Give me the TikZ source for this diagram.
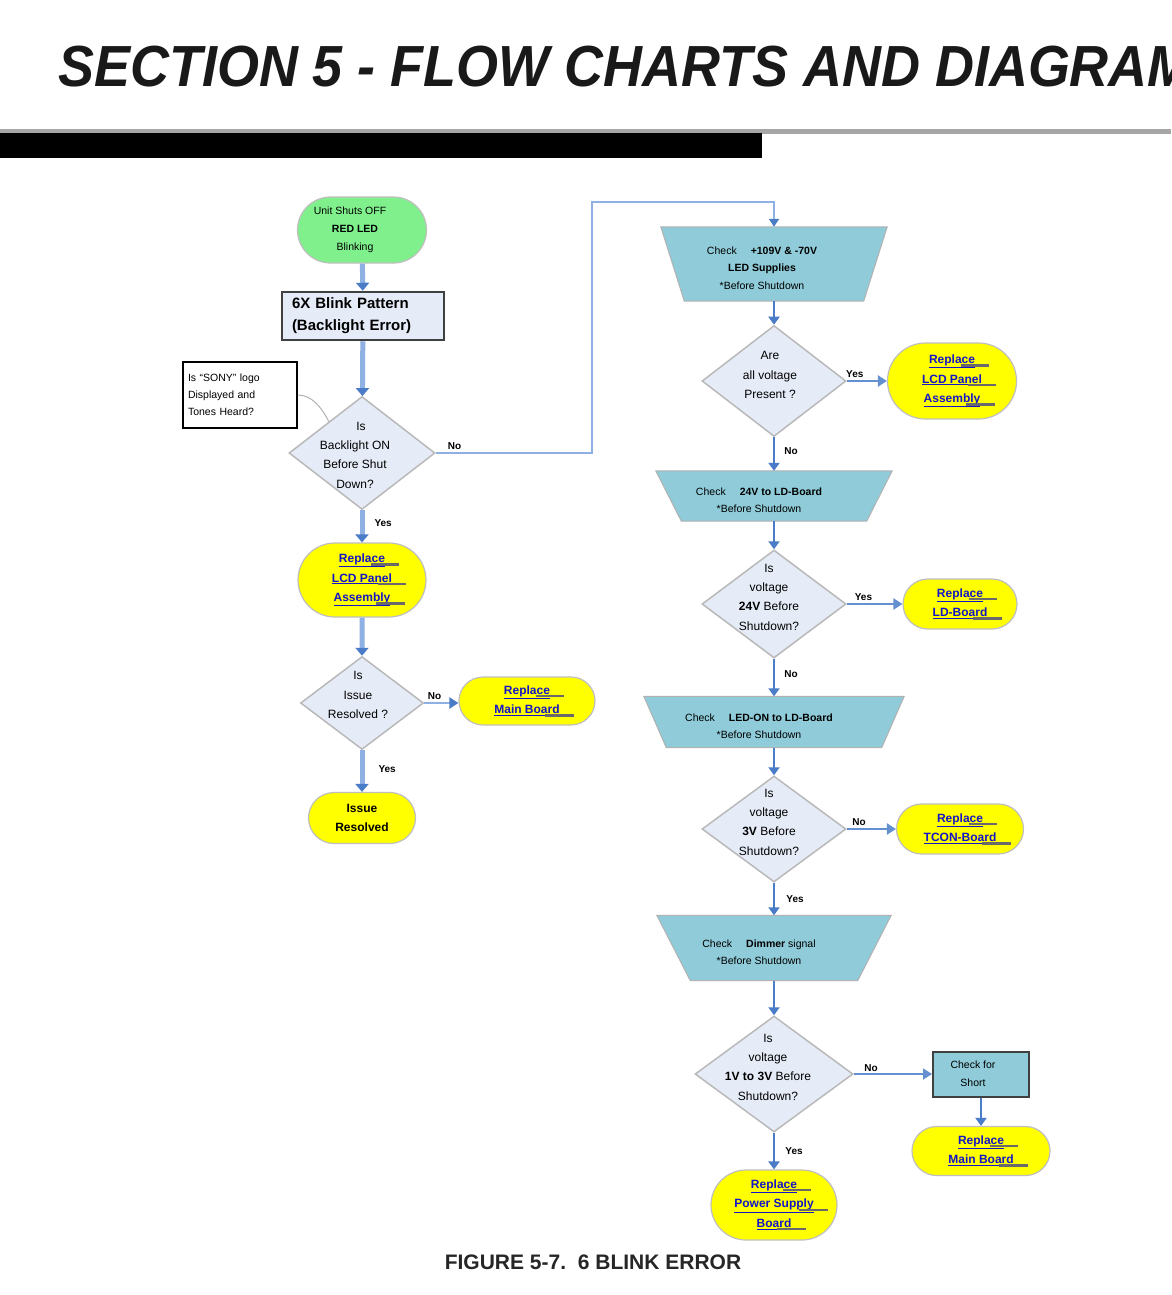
\documentclass[tikz,border=0pt]{standalone}
\usepackage{fontspec}
\setmainfont{Liberation Sans}
\usetikzlibrary{shapes.geometric,shapes.misc,arrows.meta,calc}

\definecolor{startgreen}{RGB}{128,240,140}
\definecolor{endyellow}{RGB}{255,255,0}
\definecolor{checkteal}{RGB}{143,203,216}
\definecolor{askfill}{RGB}{230,236,247}
\definecolor{flowblue}{RGB}{74,124,200}
\definecolor{paleblue}{RGB}{142,176,226}
\definecolor{linkblue}{RGB}{20,20,200}
\definecolor{bargray}{RGB}{105,105,105}

% underlined link text with the grey bar behind it
\newcommand{\lnk}[1]{\textcolor{linkblue}{\underline{#1}}\rlap{\kern-1.2em\textcolor{bargray}{\rule[-3pt]{2.4em}{2.2pt}}}}
% inverted trapezium drawn on a named frame node
\newcommand{\chkshape}[2]{\filldraw[fill=checkteal, draw=gray!60, line width=1pt]
	(#1.north west) -- (#1.north east) -- ([xshift=-#2]#1.south east) -- ([xshift=#2]#1.south west) -- cycle;}

\begin{document}
\begin{tikzpicture}
	[x=1pt,y=-1pt,
	every node/.style={inner sep=0pt, align=center, font=\fontsize{10.5}{18}\selectfont},
	endbox/.style={rounded rectangle, draw=gray!50, line width=1.2pt, fill=endyellow,
		font=\bfseries\fontsize{12}{19.5}\selectfont},
	ask/.style={diamond, draw=gray!55, line width=1.5pt, fill=askfill},
	asktext/.style={font=\fontsize{12}{19.3}\selectfont},
	chk/.style={rectangle},
	chktext/.style={font=\fontsize{10.5}{17.5}\selectfont},
	lbl/.style={font=\bfseries\fontsize{10}{12}\selectfont},
	bigflow/.style={draw=paleblue, line width=5pt, -{Triangle[width=13pt,length=8pt,color=flowblue]}},
	flow/.style={draw=flowblue, line width=2.8pt, -{Triangle[width=11pt,length=8pt]}},
	sideflow/.style={draw=flowblue!85, line width=2.2pt, -{Triangle[width=11pt,length=9pt]}},
	longflow/.style={draw=paleblue, line width=2pt, -{Triangle[width=10pt,length=8pt,color=flowblue]}}]

	\useasboundingbox[fill=white] (0,0) rectangle (1171,1295);

	% page heading
	\begin{scope}
		\clip (0,0) rectangle (1171,1295);
		\node[anchor=base west, xscale=0.93, text=black!90,
			font=\bfseries\itshape\fontsize{58}{60}\selectfont] (title) at (58,87)
			{SECTION 5 - FLOW CHARTS AND DIAGRAMS};
	\end{scope}
	\fill[gray!70] (0,129) rectangle (1171,134);
	\fill[black] (0,133) rectangle (762,158);

	% left column
	\node[endbox, fill=startgreen, font=\fontsize{10.5}{18}\selectfont,
		minimum width=129pt, minimum height=66pt] (start) at (362,230)
		{Unit Shuts OFF\rule{24pt}{0pt}\\\textbf{RED LED}\rule{14pt}{0pt}\\Blinking\rule{14pt}{0pt}};
	\node[draw=black!75, line width=2.5pt, fill=askfill, text width=142pt, align=left,
		minimum width=162pt, minimum height=48pt,
		font=\bfseries\fontsize{15}{22}\selectfont] (blink) at (363,316)
		{6X Blink Pattern\\(Backlight Error)};
	\node[draw=black, line width=1.6pt, fill=white, text width=104pt, align=left,
		minimum width=114pt, minimum height=66pt,
		font=\fontsize{10.5}{17}\selectfont] (sony) at (240,395)
		{Is “SONY” logo\\Displayed and\\Tones Heard?};
	\node[ask, minimum width=146pt, minimum height=113pt] (q1) at (362,453) {};
	\node[asktext, xshift=-7pt, yshift=-2pt] (q1t) at (q1) {\rule{12pt}{0pt}Is\\Backlight ON\\Before Shut\\Down?};
	\node[endbox, minimum width=128pt, minimum height=74pt] (lcdL) at (362,580)
		{\lnk{Replace}\\\lnk{LCD Panel}\\\lnk{Assembly}};
	\node[ask, minimum width=123pt, minimum height=93pt] (q2) at (362,703) {};
	\node[asktext, xshift=-4pt, yshift=8pt] (q2t) at (q2) {Is\\Issue\\Resolved ?};
	\node[endbox, minimum width=136pt, minimum height=48pt] (mainL) at (527,701)
		{\lnk{Replace}\\\lnk{Main Board}};
	\node[endbox, minimum width=107pt, minimum height=51pt] (fixed) at (362,818)
		{Issue\\Resolved};

	% right column
	\node[chk, minimum width=226pt, minimum height=74pt] (t1) at (774,264) {};
	\chkshape{t1}{23.5pt}
	\node[chktext, xshift=-12pt, yshift=-4pt] (t1t) at (t1)
		{Check\hspace{14pt}\textbf{+109V \& -70V}\\\textbf{LED Supplies}\\{}*Before Shutdown};
	\node[ask, minimum width=144pt, minimum height=111pt] (q3) at (774,381) {};
	\node[asktext, xshift=-4pt, yshift=6pt] (q3t) at (q3) {Are\\all voltage\\Present ?};
	\node[endbox, minimum width=129pt, minimum height=76pt] (lcdR) at (952,381)
		{\lnk{Replace}\\\lnk{LCD Panel}\\\lnk{Assembly}};

	\node[chk, minimum width=236pt, minimum height=50pt] (t2) at (774,496) {};
	\chkshape{t2}{25.5pt}
	\node[chktext, xshift=-15pt, yshift=-4pt] (t2t) at (t2)
		{Check\hspace{14pt}\textbf{24V to LD-Board}\\{}*Before Shutdown};
	\node[ask, minimum width=144pt, minimum height=108pt] (q4) at (774,604) {};
	\node[asktext, xshift=-5pt, yshift=7pt] (q4t) at (q4) {Is\\voltage\\\textbf{24V} Before\\Shutdown?};
	\node[endbox, minimum width=114pt, minimum height=50pt] (ldb) at (960,604)
		{\lnk{Replace}\\\lnk{LD-Board}};

	\node[chk, minimum width=260pt, minimum height=51pt] (t3) at (774,722) {};
	\chkshape{t3}{22.5pt}
	\node[chktext, xshift=-15pt, yshift=-4pt] (t3t) at (t3)
		{Check\hspace{14pt}\textbf{LED-ON to LD-Board}\\{}*Before Shutdown};
	\node[ask, minimum width=144pt, minimum height=106pt] (q5) at (774,829) {};
	\node[asktext, xshift=-5pt, yshift=7pt] (q5t) at (q5) {Is\\voltage\\\textbf{3V} Before\\Shutdown?};
	\node[endbox, minimum width=127pt, minimum height=50pt] (tcon) at (960,829)
		{\lnk{Replace}\\\lnk{TCON-Board}};

	\node[chk, minimum width=234pt, minimum height=65pt] (t4) at (774,948) {};
	\chkshape{t4}{33.5pt}
	\node[chktext, xshift=-15pt, yshift=-4pt] (t4t) at (t4)
		{Check\hspace{14pt}\textbf{Dimmer} signal\\{}*Before Shutdown};
	\node[ask, minimum width=158pt, minimum height=116pt] (q6) at (774,1074) {};
	\node[asktext, xshift=-6pt, yshift=7pt] (q6t) at (q6) {Is\\voltage\\\textbf{1V to 3V} Before\\Shutdown?};
	\node[draw=black!75, line width=2pt, fill=checkteal,
		minimum width=96pt, minimum height=45pt] (short) at (981,1074)
		{Check for\rule{16pt}{0pt}\\Short\rule{16pt}{0pt}};
	\node[endbox, minimum width=138pt, minimum height=49pt] (mainR) at (981,1151)
		{\lnk{Replace}\\\lnk{Main Board}};
	\node[endbox, minimum width=126pt, minimum height=70pt] (psu) at (774,1205)
		{\lnk{Replace}\\\lnk{Power Supply}\\\lnk{Board}};

	\node[text=black!85, font=\bfseries\fontsize{21}{24}\selectfont] (caption) at (593,1262)
		{FIGURE 5-7.\ \ 6 BLINK ERROR};

	% callout from the note
	\draw[gray!60, line width=1pt] (sony.east) .. controls (312,395) and (322,408) ..
		($(q1.north)!0.45!(q1.west)$);

	% connectors, left column
	\draw[bigflow] (start) -- (blink);
	\draw[bigflow] (blink) -- (q1);
	\draw[bigflow] (q1) -- node[lbl, right=10pt, pos=0.4] {Yes} (lcdL);
	\draw[bigflow] (lcdL) -- (q2);
	\draw[bigflow] (q2) -- node[lbl, right=14pt, pos=0.45] {Yes} (fixed);
	\draw[sideflow, draw=paleblue, -{Triangle[width=11pt,length=9pt,color=flowblue]}]
		(q2.east) -- node[lbl, above=2pt, pos=0.3] {No} (q2.east -| mainL.west);
	\coordinate (noturn) at (592,202);
	\draw[longflow] (q1.east) -| node[lbl, above=2pt, pos=0.06] {No} (noturn) -| (t1.north);

	% connectors, right column
	\draw[flow] (t1) -- (q3);
	\draw[sideflow] (q3.east) -- node[lbl, above=2pt, pos=0.2] {Yes} (q3.east -| lcdR.west);
	\draw[flow] (q3) -- node[lbl, right=9pt, pos=0.4] {No} (t2);
	\draw[flow] (t2) -- (q4);
	\draw[sideflow] (q4.east) -- node[lbl, above=2pt, pos=0.3] {Yes} (q4.east -| ldb.west);
	\draw[flow] (q4) -- node[lbl, right=9pt, pos=0.4] {No} (t3);
	\draw[flow] (t3) -- (q5);
	\draw[sideflow] (q5.east) -- node[lbl, above=2pt, pos=0.25] {No} (q5.east -| tcon.west);
	\draw[flow] (q5) -- node[lbl, right=11pt, pos=0.5] {Yes} (t4);
	\draw[flow] (t4) -- (q6);
	\draw[sideflow, line width=1.8pt] (q6.east) -- node[lbl, above=2pt, pos=0.22] {No} (q6.east -| short.west);
	\draw[flow] (short) -- (mainR);
	\draw[flow] (q6) -- node[lbl, right=10pt, pos=0.5] {Yes} (psu);
\end{tikzpicture}
\end{document}
